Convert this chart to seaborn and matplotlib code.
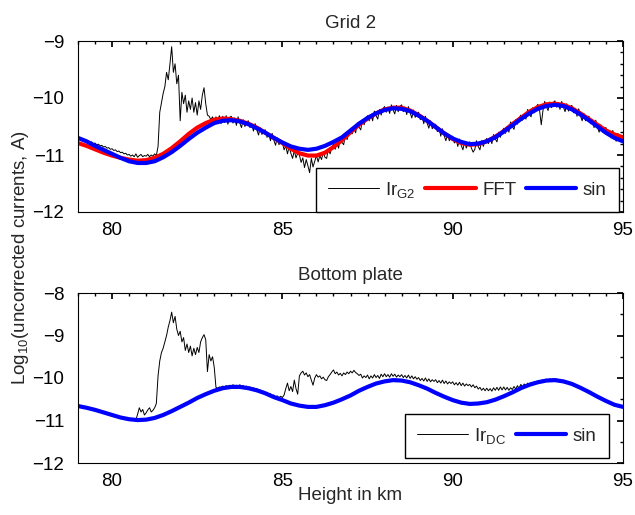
import numpy as np
import pandas as pd
import matplotlib
matplotlib.use("Agg")
import matplotlib.pyplot as plt
from matplotlib.ticker import MultipleLocator
import seaborn as sns

# ---------------------------------------------------------------------
# Data (log10 of uncorrected currents, A)

# smooth fits sampled every 0.25 km, 79 -> 95 km
fit_km = np.linspace(79, 95, 65)

g2_fft = [-10.79, -10.84, -10.90, -10.96, -11.01, -11.05, -11.08, -11.10,
          -11.09, -11.05, -10.98, -10.88, -10.76, -10.63, -10.52, -10.44,
          -10.38, -10.36, -10.37, -10.40, -10.45, -10.52, -10.61, -10.70,
          -10.79, -10.89, -10.97, -11.01, -11.01, -10.96, -10.86, -10.74,
          -10.60, -10.47, -10.36, -10.27, -10.20, -10.17, -10.17, -10.22,
          -10.30, -10.40, -10.51, -10.62, -10.72, -10.79, -10.82, -10.81,
          -10.76, -10.68, -10.58, -10.46, -10.35, -10.24, -10.16, -10.11,
          -10.10, -10.12, -10.18, -10.27, -10.37, -10.47, -10.57, -10.64,
          -10.69]

g2_sin = [-10.70, -10.76, -10.84, -10.91, -10.98, -11.05, -11.11, -11.14,
          -11.14, -11.11, -11.04, -10.95, -10.84, -10.72, -10.61, -10.52,
          -10.44, -10.40, -10.39, -10.41, -10.46, -10.53, -10.61, -10.70,
          -10.78, -10.85, -10.89, -10.91, -10.89, -10.84, -10.77, -10.69,
          -10.57, -10.45, -10.35, -10.27, -10.21, -10.18, -10.19, -10.23,
          -10.31, -10.40, -10.51, -10.62, -10.71, -10.77, -10.81, -10.80,
          -10.76, -10.69, -10.59, -10.48, -10.37, -10.27, -10.19, -10.14,
          -10.12, -10.14, -10.20, -10.29, -10.39, -10.50, -10.61, -10.70,
          -10.76]

dc_sin = [-10.66, -10.70, -10.75, -10.81, -10.87, -10.93, -10.97, -10.99,
          -10.98, -10.94, -10.87, -10.78, -10.68, -10.58, -10.47, -10.38,
          -10.30, -10.24, -10.21, -10.21, -10.24, -10.29, -10.36, -10.45,
          -10.52, -10.60, -10.65, -10.68, -10.68, -10.64, -10.58, -10.50,
          -10.41, -10.30, -10.21, -10.13, -10.08, -10.05, -10.06, -10.10,
          -10.17, -10.25, -10.35, -10.44, -10.52, -10.58, -10.61, -10.60,
          -10.57, -10.51, -10.43, -10.34, -10.24, -10.16, -10.10, -10.06,
          -10.05, -10.08, -10.14, -10.23, -10.33, -10.44, -10.54, -10.63,
          -10.68]

# raw probe currents sampled every 0.05 km, 79 -> 95 km (one row = 0.5 km)
raw_km = np.linspace(79, 95, 321)

ir_g2 = [
    -10.70, -10.72, -10.71, -10.74, -10.73, -10.76, -10.75, -10.78, -10.77, -10.80,
    -10.79, -10.82, -10.81, -10.84, -10.83, -10.86, -10.85, -10.88, -10.87, -10.90,
    -10.89, -10.92, -10.91, -10.94, -10.93, -10.96, -10.95, -10.98, -10.97, -11.00,
    -10.99, -11.02, -11.00, -11.03, -10.98, -11.04, -11.01, -10.99, -11.03, -11.01,
    -11.02, -10.99, -11.03, -11.00, -11.02, -10.98, -11.01, -10.85, -10.25, -10.08,
    -9.92, -9.80, -9.55, -9.68, -9.40, -9.10, -9.55, -9.40, -9.75, -9.60,
    -10.40, -9.90, -10.10, -9.95, -10.25, -10.05, -10.20, -10.00, -10.25, -10.08,
    -10.30, -10.05, -10.20, -9.95, -9.82, -10.10, -10.30, -10.32, -10.38, -10.33,
    -10.42, -10.33, -10.40, -10.31, -10.45, -10.32, -10.43, -10.31, -10.46, -10.34,
    -10.32, -10.44, -10.35, -10.48, -10.33, -10.44, -10.52, -10.38, -10.50, -10.42,
    -10.40, -10.52, -10.45, -10.58, -10.45, -10.56, -10.65, -10.52, -10.64, -10.57,
    -10.56, -10.69, -10.62, -10.75, -10.62, -10.74, -10.83, -10.70, -10.82, -10.75,
    -10.78, -10.91, -10.84, -10.98, -10.85, -10.97, -11.06, -10.92, -11.05, -10.97,
    -11.00, -11.13, -11.05, -11.22, -11.08, -11.19, -11.31, -11.06, -11.21, -11.11,
    -11.01, -11.12, -11.01, -11.08, -10.95, -11.04, -11.06, -10.89, -10.98, -10.88,
    -10.81, -10.90, -10.78, -10.88, -10.70, -10.78, -10.82, -10.64, -10.73, -10.61,
    -10.55, -10.63, -10.52, -10.61, -10.44, -10.51, -10.56, -10.39, -10.47, -10.36,
    -10.31, -10.40, -10.29, -10.40, -10.23, -10.31, -10.37, -10.20, -10.30, -10.19,
    -10.15, -10.25, -10.16, -10.27, -10.12, -10.21, -10.28, -10.13, -10.24, -10.15,
    -10.12, -10.24, -10.16, -10.29, -10.15, -10.26, -10.35, -10.21, -10.34, -10.26,
    -10.25, -10.38, -10.31, -10.45, -10.32, -10.44, -10.53, -10.40, -10.54, -10.47,
    -10.46, -10.59, -10.52, -10.67, -10.54, -10.66, -10.75, -10.62, -10.75, -10.68,
    -10.67, -10.79, -10.72, -10.85, -10.72, -10.83, -10.91, -10.76, -10.88, -10.79,
    -10.77, -10.88, -10.95, -10.90, -10.75, -10.85, -10.91, -10.75, -10.85, -10.75,
    -10.71, -10.80, -10.70, -10.80, -10.64, -10.72, -10.77, -10.60, -10.69, -10.58,
    -10.53, -10.62, -10.50, -10.60, -10.42, -10.50, -10.55, -10.38, -10.46, -10.35,
    -10.30, -10.39, -10.28, -10.37, -10.20, -10.28, -10.33, -10.17, -10.26, -10.16,
    -10.11, -10.21, -10.47, -10.22, -10.06, -10.15, -10.22, -10.07, -10.17, -10.08,
    -10.05, -10.16, -10.08, -10.20, -10.06, -10.16, -10.24, -10.10, -10.23, -10.15,
    -10.13, -10.26, -10.19, -10.32, -10.19, -10.31, -10.40, -10.27, -10.40, -10.33,
    -10.32, -10.45, -10.38, -10.52, -10.39, -10.51, -10.60, -10.47, -10.60, -10.53,
    -10.52, -10.64, -10.57, -10.70, -10.57, -10.68, -10.76, -10.62, -10.74, -10.66,
    -10.72,
]

nan = np.nan
ir_dc = [
    nan, nan, nan, nan, nan, nan, nan, nan, nan, nan,
    nan, nan, nan, nan, nan, nan, nan, nan, nan, nan,
    nan, nan, nan, nan, nan, nan, nan, nan, nan, nan,
    nan, nan, nan, nan, -10.99, -10.85, -10.70, -10.80, -10.74, -10.87,
    -10.82, -10.75, -10.70, -10.80, -10.76, -10.70, -10.60, -9.95, -9.60, -9.40,
    -9.30, -9.15, -9.00, -8.80, -8.65, -8.45, -8.70, -8.55, -8.85, -9.00,
    -8.90, -9.15, -9.05, -9.35, -9.20, -9.40, -9.25, -9.48, -9.30, -9.45,
    -9.28, -9.40, -9.15, -9.05, -8.98, -9.10, -9.85, -9.45, -9.60, -9.50,
    -9.75, -10.22, -10.24, -10.21, -10.22, -10.19, -10.21, -10.18, -10.20, -10.17,
    -10.19, -10.16, -10.18, -10.17, -10.19, -10.16, -10.19, -10.18, -10.21, -10.19,
    -10.22, -10.21, -10.25, -10.23, -10.27, -10.25, -10.29, -10.28, -10.33, -10.31,
    -10.35, -10.34, -10.38, -10.37, -10.41, -10.40, -10.44, -10.42, -10.46, -10.43,
    -10.46, -10.40, -10.25, -10.12, -10.30, -10.20, -10.32, -10.05, -10.25, -10.38,
    -9.95, -9.88, -9.84, -9.93, -9.88, -9.97, -9.92, -10.05, -10.17, -10.00,
    -9.92, -9.98, -9.95, -10.02, -9.98, -10.04, -10.06, -9.97, -9.92, -9.86,
    -9.81, -9.90, -9.86, -9.93, -9.89, -9.95, -9.88, -9.92, -9.86, -9.90,
    -9.84, -9.88, -9.82, -9.87, -9.90, -9.94, -9.91, -10.00, -9.95, -9.99,
    -9.93, -10.02, -9.95, -10.00, -9.92, -9.99, -9.94, -10.01, -9.91, -9.97,
    -9.90, -9.97, -9.92, -9.98, -9.90, -9.96, -9.91, -9.98, -9.93, -9.97,
    -9.92, -9.99, -9.94, -10.00, -9.93, -10.01, -9.95, -10.02, -9.97, -10.03,
    -9.99, -10.06, -10.01, -10.07, -10.00, -10.08, -10.02, -10.09, -10.04, -10.08,
    -10.04, -10.11, -10.06, -10.12, -10.05, -10.13, -10.07, -10.14, -10.09, -10.13,
    -10.09, -10.16, -10.11, -10.17, -10.10, -10.18, -10.12, -10.19, -10.14, -10.18,
    -10.15, -10.21, -10.16, -10.23, -10.19, -10.26, -10.22, -10.29, -10.24, -10.30,
    -10.24, -10.30, -10.25, -10.31, -10.23, -10.29, -10.22, -10.29, -10.21, -10.28,
    -10.21, -10.28, -10.22, -10.29, -10.23, -10.27, -10.20, -10.26, -10.18, -10.24,
    -10.15, -10.21, -10.14, -10.20, -10.12, -10.17, -10.10, -10.15, -10.08, -10.13,
    -10.08, -10.06, -10.07, -10.04, -10.05, -10.03, -10.05, -10.02, -10.04, -10.02,
    -10.04, -10.02, -10.05, -10.04, -10.07, -10.06, -10.09, -10.08, -10.12, -10.11,
    -10.14, -10.14, -10.18, -10.17, -10.21, -10.21, -10.25, -10.25, -10.29, -10.29,
    -10.33, -10.33, -10.37, -10.37, -10.42, -10.42, -10.46, -10.46, -10.50, -10.50,
    -10.54, -10.54, -10.58, -10.58, -10.61, -10.61, -10.64, -10.63, -10.66, -10.65,
    -10.67,
]

assert len(ir_g2) == len(raw_km) and len(ir_dc) == len(raw_km)
assert len(g2_fft) == len(fit_km) and len(g2_sin) == len(fit_km) and len(dc_sin) == len(fit_km)

fits = pd.DataFrame({'km': fit_km, 'fft': g2_fft, 'sin': g2_sin, 'dcsin': dc_sin})
raw = pd.DataFrame({'km': raw_km, 'g2': ir_g2, 'dc': ir_dc})

# ---------------------------------------------------------------------
# Style: MATLAB-like boxed axes

FS = 13.5
sns.set_theme(style="white")
plt.rcParams['font.family'] = ['Liberation Sans', 'DejaVu Sans']
plt.rcParams.update({
    'font.size': FS,
    'mathtext.default': 'regular',
    'axes.linewidth': 0.8,
    'axes.edgecolor': 'black',
    'xtick.direction': 'in', 'ytick.direction': 'in',
    'xtick.top': True, 'ytick.right': True,
    'xtick.major.size': 4, 'ytick.major.size': 4,
    'xtick.minor.size': 2.5, 'ytick.minor.size': 2.5,
    'xtick.major.pad': 7, 'ytick.major.pad': 10,
    'xtick.color': 'black', 'ytick.color': 'black',
    'xtick.labelsize': FS, 'ytick.labelsize': FS,
})

fig = plt.figure(figsize=(6.35, 5.15), dpi=100)
ax1 = fig.add_axes([78/635, 1-212/515, 545/635, 171/515])
ax2 = fig.add_axes([78/635, 1-463/515, 545/635, 170/515])

leg_kw = dict(loc='lower right', borderaxespad=0, handlelength=2.7,
              columnspacing=0.5, handletextpad=0.35, borderpad=0.65,
              fancybox=False, framealpha=1, edgecolor='black', fontsize=FS)

# --- Grid 2
sns.lineplot(data=raw, x='km', y='g2', ax=ax1, color='black', lw=0.7,
             estimator=None, label='Ir$_{G2}$')
sns.lineplot(data=fits, x='km', y='fft', ax=ax1, color='red', lw=3,
             estimator=None, label='FFT')
sns.lineplot(data=fits, x='km', y='sin', ax=ax1, color='blue', lw=3,
             estimator=None, label='sin')
ax1.set_ylim(-12, -9)
ax1.yaxis.set_major_locator(MultipleLocator(1))
ax1.yaxis.set_minor_locator(MultipleLocator(0.2))
ax1.set_title('Grid 2', fontsize=FS, pad=9)
ax1.legend(bbox_to_anchor=(541/545, 0), ncol=3, **leg_kw)

# --- Bottom plate
dc = raw.dropna()
sns.lineplot(data=dc, x='km', y='dc', ax=ax2, color='black', lw=0.7,
             estimator=None, label='Ir$_{DC}$')
sns.lineplot(data=fits, x='km', y='dcsin', ax=ax2, color='blue', lw=3,
             estimator=None, label='sin')
ax2.set_ylim(-12, -8)
ax2.yaxis.set_major_locator(MultipleLocator(1))
ax2.yaxis.set_minor_locator(MultipleLocator(0.5))
ax2.set_title('Bottom plate', fontsize=FS, pad=9)
ax2.legend(bbox_to_anchor=(531/545, 5/170), ncol=2, **leg_kw)

for ax in (ax1, ax2):
    ax.set_xlim(79, 95)
    ax.xaxis.set_major_locator(MultipleLocator(5))
    ax.xaxis.set_minor_locator(MultipleLocator(0.5))
    ax.set_xlabel('')
    ax.set_ylabel('')
    for s in ax.spines.values():
        s.set_visible(True)
        s.set_color('black')
    ax.tick_params(which='both', top=True, right=True, direction='in')

ax2.set_xlabel('Height in km', fontsize=FS, labelpad=-2)
fig.text(0.032, 0.5, 'Log$_{10}$(uncorrected currents, A)', rotation=90,
         ha='center', va='center', fontsize=FS)

fig.savefig('out.png', dpi=100, facecolor='white')
